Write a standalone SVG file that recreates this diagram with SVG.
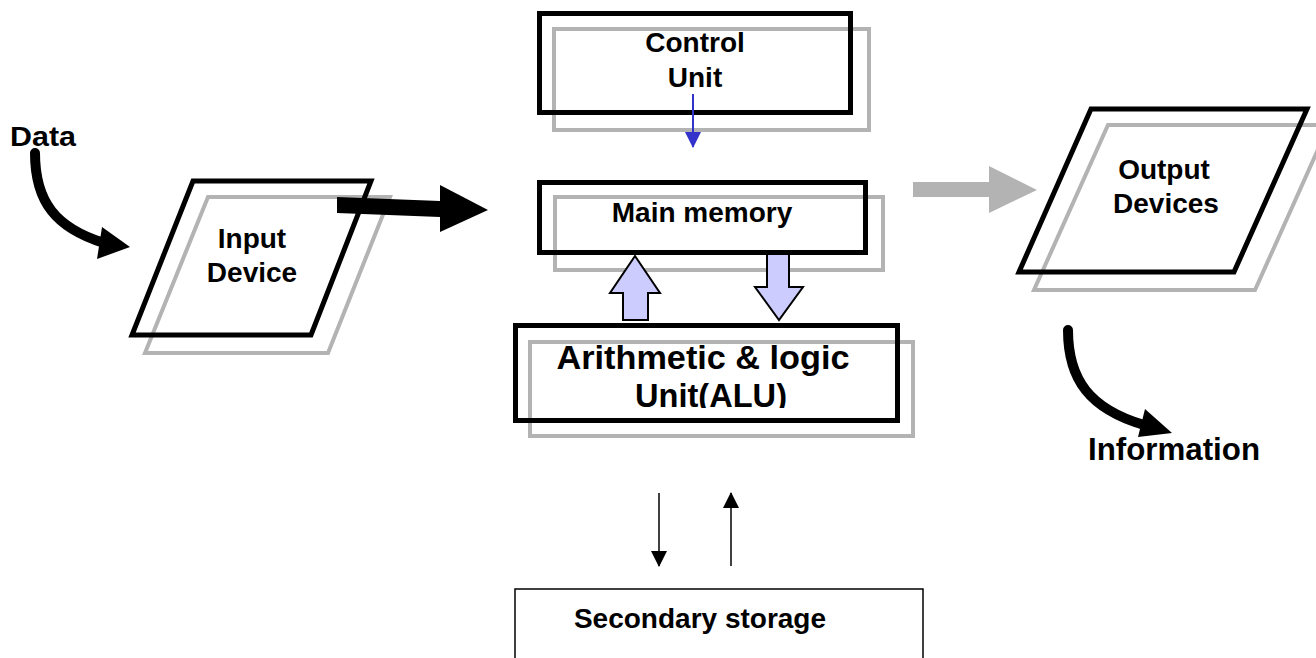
<svg xmlns="http://www.w3.org/2000/svg" width="1316" height="658" viewBox="0 0 1316 658">
  <style>
    .lbl { font-family: "Liberation Sans", Arial, sans-serif; font-weight: bold; fill: #000; text-anchor: middle; }
    .f28 { font-size: 28px; }
    .f33 { font-size: 33px; }
    .box { fill: none; stroke: #000; stroke-width: 5; }
    .shadow { fill: none; stroke: #b3b3b3; stroke-width: 4; }
    .thin { fill: #fff; stroke: #000; stroke-width: 1.5; }
    .block { fill: #ccccff; stroke: #000; stroke-width: 2; stroke-linejoin: miter; }
  </style>
  <defs>
    <marker id="headBlack" markerWidth="16" markerHeight="16" refX="15" refY="8" orient="auto" markerUnits="userSpaceOnUse">
      <path d="M0,0 L16,8 L0,16 Z" fill="#000"/>
    </marker>
    <marker id="headBlue" markerWidth="16" markerHeight="16" refX="15" refY="8" orient="auto" markerUnits="userSpaceOnUse">
      <path d="M0,0 L16,8 L0,16 Z" fill="#3333cc"/>
    </marker>
    <!-- the ALU caption sits in a text frame that trims its lower edge -->
    <clipPath id="aluTextFrame">
      <rect x="520" y="330" width="390" height="78"/>
    </clipPath>
  </defs>
  <rect width="1316" height="658" fill="#fff"/>

  <!-- Control unit -->
  <g id="control-unit">
    <rect class="shadow" x="554" y="29" width="315" height="101"/>
    <rect class="box" x="539.5" y="13.5" width="311" height="99"/>
    <text class="lbl f28" x="695" y="52">Control</text>
    <text class="lbl f28" x="695" y="87">Unit</text>
  </g>

  <!-- Main memory -->
  <g id="main-memory">
    <rect class="shadow" x="555" y="197" width="328" height="73"/>
    <rect class="box" x="539.5" y="182.5" width="326" height="70"/>
    <text class="lbl f28" x="702" y="222">Main memory</text>
  </g>

  <!-- Arithmetic & logic unit -->
  <g id="alu">
    <rect class="shadow" x="530" y="342" width="383" height="94"/>
    <g clip-path="url(#aluTextFrame)">
      <text class="lbl f33" x="703" y="369" textLength="293" lengthAdjust="spacingAndGlyphs">Arithmetic &amp; logic</text>
      <text class="lbl f33" x="711" y="407" textLength="152" lengthAdjust="spacingAndGlyphs">Unit(ALU)</text>
    </g>
    <rect class="box" x="515.5" y="325.5" width="382" height="95"/>
  </g>

  <!-- Secondary storage -->
  <g id="secondary-storage">
    <rect class="thin" x="515" y="589" width="408" height="80"/>
    <text class="lbl f28" x="700" y="628">Secondary storage</text>
  </g>

  <!-- Input device -->
  <g id="input-device">
    <polygon class="shadow" points="208,197 390,197 328,353 145,353"/>
    <polygon class="box" points="193,181 371,181 311,335 132,335"/>
    <text class="lbl f28" x="252" y="248">Input</text>
    <text class="lbl f28" x="252" y="282">Device</text>
  </g>

  <!-- Output devices -->
  <g id="output-devices">
    <polygon class="shadow" points="1108,125 1329,125 1255,290 1034,290"/>
    <polygon class="box" points="1091,109 1307,109 1234,272 1019,272"/>
    <text class="lbl f28" x="1164" y="179">Output</text>
    <text class="lbl f28" x="1166" y="213">Devices</text>
  </g>

  <!-- Free labels -->
  <g id="data">
    <text class="lbl f28" x="43" y="146" textLength="66" lengthAdjust="spacingAndGlyphs">Data</text>
  </g>
  <g id="information">
    <text class="lbl" x="1174" y="460" font-size="31" textLength="172" lengthAdjust="spacingAndGlyphs">Information</text>
  </g>

  <!-- Connectors -->
  <g id="connectors">
    <!-- data into input device -->
    <path d="M35,153 C35,202 56,228 104,243" fill="none" stroke="#000" stroke-width="10" stroke-linecap="round"/>
    <polygon points="102,227 130,247 97,259" fill="#000"/>

    <!-- input device to main memory -->
    <polygon points="337,197 440,201 440,185 488,210 440,232 440,217 337,213" fill="#000"/>

    <!-- main memory to output devices -->
    <polygon points="913,182 989,182 989,166 1037,190 989,213 989,197 913,197" fill="#b3b3b3"/>

    <!-- output devices to information -->
    <path d="M1068,330 C1068,380 1090,409 1144,425" fill="none" stroke="#000" stroke-width="10" stroke-linecap="round"/>
    <polygon points="1145,409 1172,433 1138,437" fill="#000"/>

    <!-- control unit to main memory -->
    <line x1="693" y1="94" x2="693" y2="147" stroke="#3333cc" stroke-width="2" marker-end="url(#headBlue)"/>

    <!-- ALU up to main memory -->
    <polygon class="block" points="623,320 648,320 648,293 660,293 635,256 610,293 623,293 623,320"/>
    <!-- main memory down to ALU -->
    <polygon class="block" points="767,254 789,254 789,287 803,287 779,320 755,287 767,287 767,254"/>

    <!-- ALU / secondary storage transfers -->
    <line x1="659" y1="493" x2="659" y2="566" stroke="#000" stroke-width="1.5" marker-end="url(#headBlack)"/>
    <line x1="731" y1="566" x2="731" y2="493" stroke="#000" stroke-width="1.5" marker-end="url(#headBlack)"/>
  </g>
</svg>
